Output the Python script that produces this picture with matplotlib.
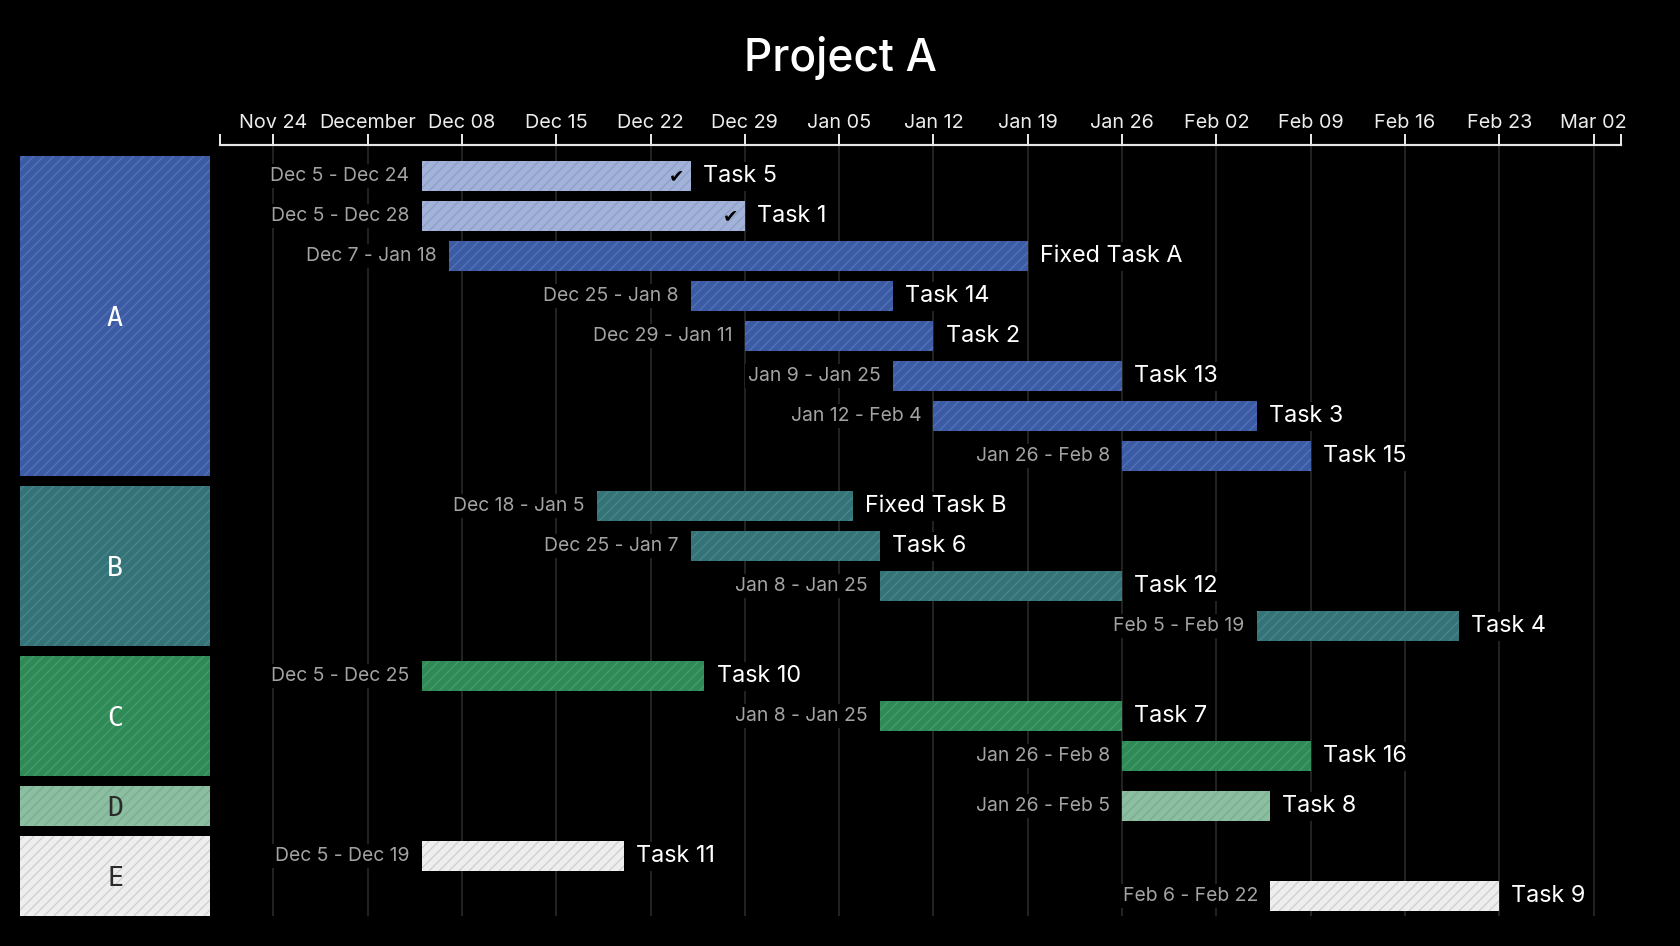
import datetime as dt
import matplotlib
matplotlib.use("Agg")
import matplotlib.pyplot as plt
import matplotlib.dates as mdates
from matplotlib.ticker import FixedLocator, FixedFormatter

plt.rcParams['font.family'] = ['Inter', 'DejaVu Sans']
plt.rcParams['hatch.linewidth'] = 0.8

# ---------------- data ----------------
title = "Project A"
groups = ["A", "B", "C", "D", "E"]
group_tasks = {
    "A": ["Task 5", "Task 1", "Fixed Task A", "Task 14", "Task 2", "Task 13", "Task 3", "Task 15"],
    "B": ["Fixed Task B", "Task 6", "Task 12", "Task 4"],
    "C": ["Task 10", "Task 7", "Task 16"],
    "D": ["Task 8"],
    "E": ["Task 11", "Task 9"],
}
task_start = {
    "Task 5": "2024-12-05", "Task 1": "2024-12-05", "Fixed Task A": "2024-12-07",
    "Task 14": "2024-12-25", "Task 2": "2024-12-29", "Task 13": "2025-01-09",
    "Task 3": "2025-01-12", "Task 15": "2025-01-26",
    "Fixed Task B": "2024-12-18", "Task 6": "2024-12-25", "Task 12": "2025-01-08",
    "Task 4": "2025-02-05",
    "Task 10": "2024-12-05", "Task 7": "2025-01-08", "Task 16": "2025-01-26",
    "Task 8": "2025-01-26",
    "Task 11": "2024-12-05", "Task 9": "2025-02-06",
}
task_end = {
    "Task 5": "2024-12-24", "Task 1": "2024-12-28", "Fixed Task A": "2025-01-18",
    "Task 14": "2025-01-08", "Task 2": "2025-01-11", "Task 13": "2025-01-25",
    "Task 3": "2025-02-04", "Task 15": "2025-02-08",
    "Fixed Task B": "2025-01-05", "Task 6": "2025-01-07", "Task 12": "2025-01-25",
    "Task 4": "2025-02-19",
    "Task 10": "2024-12-25", "Task 7": "2025-01-25", "Task 16": "2025-02-08",
    "Task 8": "2025-02-05",
    "Task 11": "2024-12-19", "Task 9": "2025-02-22",
}
completed = ["Task 5", "Task 1"]

tick_dates = ["2024-11-24", "2024-12-01", "2024-12-08", "2024-12-15", "2024-12-22",
              "2024-12-29", "2025-01-05", "2025-01-12", "2025-01-19", "2025-01-26",
              "2025-02-02", "2025-02-09", "2025-02-16", "2025-02-23", "2025-03-02"]
tick_labels = ["Nov 24", "December", "Dec 08", "Dec 15", "Dec 22", "Dec 29", "Jan 05",
               "Jan 12", "Jan 19", "Jan 26", "Feb 02", "Feb 09", "Feb 16", "Feb 23", "Mar 02"]
x_range = ["2024-11-20", "2025-03-04"]

# ---------------- styles ----------------
group_fill = {"A": "#3b5ba5", "B": "#347479", "C": "#2e8a57", "D": "#8cbea1", "E": "#eeeeee"}
group_hatch = {"A": "#5672b6", "B": "#4a8589", "C": "#479a6a", "D": "#7aae8f", "E": "#cfcfcf"}
group_text = {"A": "white", "B": "white", "C": "white", "D": "#2a2a2a", "E": "#2a2a2a"}
done_fill, done_hatch = "#a2b2d8", "#8d9fca"

BG = "black"
W, H, DPI = 1680, 946, 120
fig = plt.figure(figsize=(W / DPI, H / DPI), dpi=DPI, facecolor=BG)

ax_top_px, ax_bot_px = 145, 916
ax = fig.add_axes([219.5 / W, 1 - ax_bot_px / H, (1620.5 - 219.5) / W, (ax_bot_px - ax_top_px) / H])
axg = fig.add_axes([20 / W, 1 - ax_bot_px / H, 190 / W, (ax_bot_px - ax_top_px) / H], sharey=ax)
for a in (ax, axg):
    a.set_facecolor(BG)

def d2n(s):
    return mdates.date2num(dt.datetime.strptime(s, "%Y-%m-%d"))

def lab(s):
    d = dt.datetime.strptime(s, "%Y-%m-%d")
    return f"{d:%b} {d.day}"

HATCH = "////"
GAP = 0.25
BAR_H = 0.75
y = 0.0
group_span = {}
for g in groups:
    top = y
    for t in group_tasks[g]:
        yc = y + 0.5
        s = d2n(task_start[t])
        e = d2n(task_end[t]) + 1
        done = t in completed
        fc = done_fill if done else group_fill[g]
        hc = done_hatch if done else group_hatch[g]
        ax.barh(yc, e - s, left=s, height=BAR_H, color=fc, edgecolor=hc,
                linewidth=0, hatch=HATCH, zorder=3)
        ax.annotate(f"{lab(task_start[t])} - {lab(task_end[t])}", (s, yc),
                    xytext=(-7.3, 0), textcoords="offset points", ha="right", va="center",
                    fontsize=11.6, color="#a3a3a3", zorder=4,
                    bbox=dict(boxstyle="square,pad=0.15", fc=BG, ec="none"))
        ax.annotate(t, (e, yc), xytext=(7.3, 0), textcoords="offset points",
                    ha="left", va="center", fontsize=14, color="white", zorder=4,
                    bbox=dict(boxstyle="square,pad=0.15", fc=BG, ec="none"))
        if done:
            ax.annotate("\u2714", (e, yc), xytext=(-8.5, 0), textcoords="offset points",
                        ha="center", va="center", fontsize=11, color="black",
                        family="DejaVu Sans", zorder=5)
        y += 1
    group_span[g] = (top, y)
    y += GAP
y -= GAP

for g in groups:
    top, bot = group_span[g]
    axg.barh((top + bot) / 2, 1, left=0, height=bot - top, color=group_fill[g],
             edgecolor=group_hatch[g], linewidth=0, hatch=HATCH)
    axg.text(0.5, (top + bot) / 2, g, ha="center", va="center_baseline", fontsize=16,
             color=group_text[g], family=["DejaVu Sans Mono"])

ax.set_ylim(y, -0.275)
axg.set_xlim(0, 1)
axg.axis("off")

ax.set_xlim(d2n(x_range[0]), d2n(x_range[1]))
ticks = [d2n(t) for t in tick_dates]
ax.xaxis.set_major_locator(FixedLocator(ticks))
ax.xaxis.set_major_formatter(FixedFormatter(tick_labels))
ax.xaxis.set_minor_locator(FixedLocator([d2n(x_range[0]), d2n(x_range[1])]))
ax.xaxis.tick_top()
ax.tick_params(axis="x", which="both", direction="out", length=6.6, width=1.2,
               color="#e6e6e6", labelsize=11.9, labelcolor="#ececec", pad=1.5)
ax.tick_params(axis="y", left=False, labelleft=False)
for side in ("left", "right", "bottom"):
    ax.spines[side].set_visible(False)
ax.spines["top"].set_color("#e6e6e6")
ax.spines["top"].set_linewidth(1.3)
ax.grid(axis="x", which="major", color="#2a2a2a", linewidth=1.0, zorder=0)
ax.set_axisbelow(True)

fig.text(0.5, 1 - 58 / H, title, ha="center", va="center", fontsize=26.5,
         color="white", fontweight="medium")

fig.savefig("out.png", dpi=DPI, facecolor=BG)
